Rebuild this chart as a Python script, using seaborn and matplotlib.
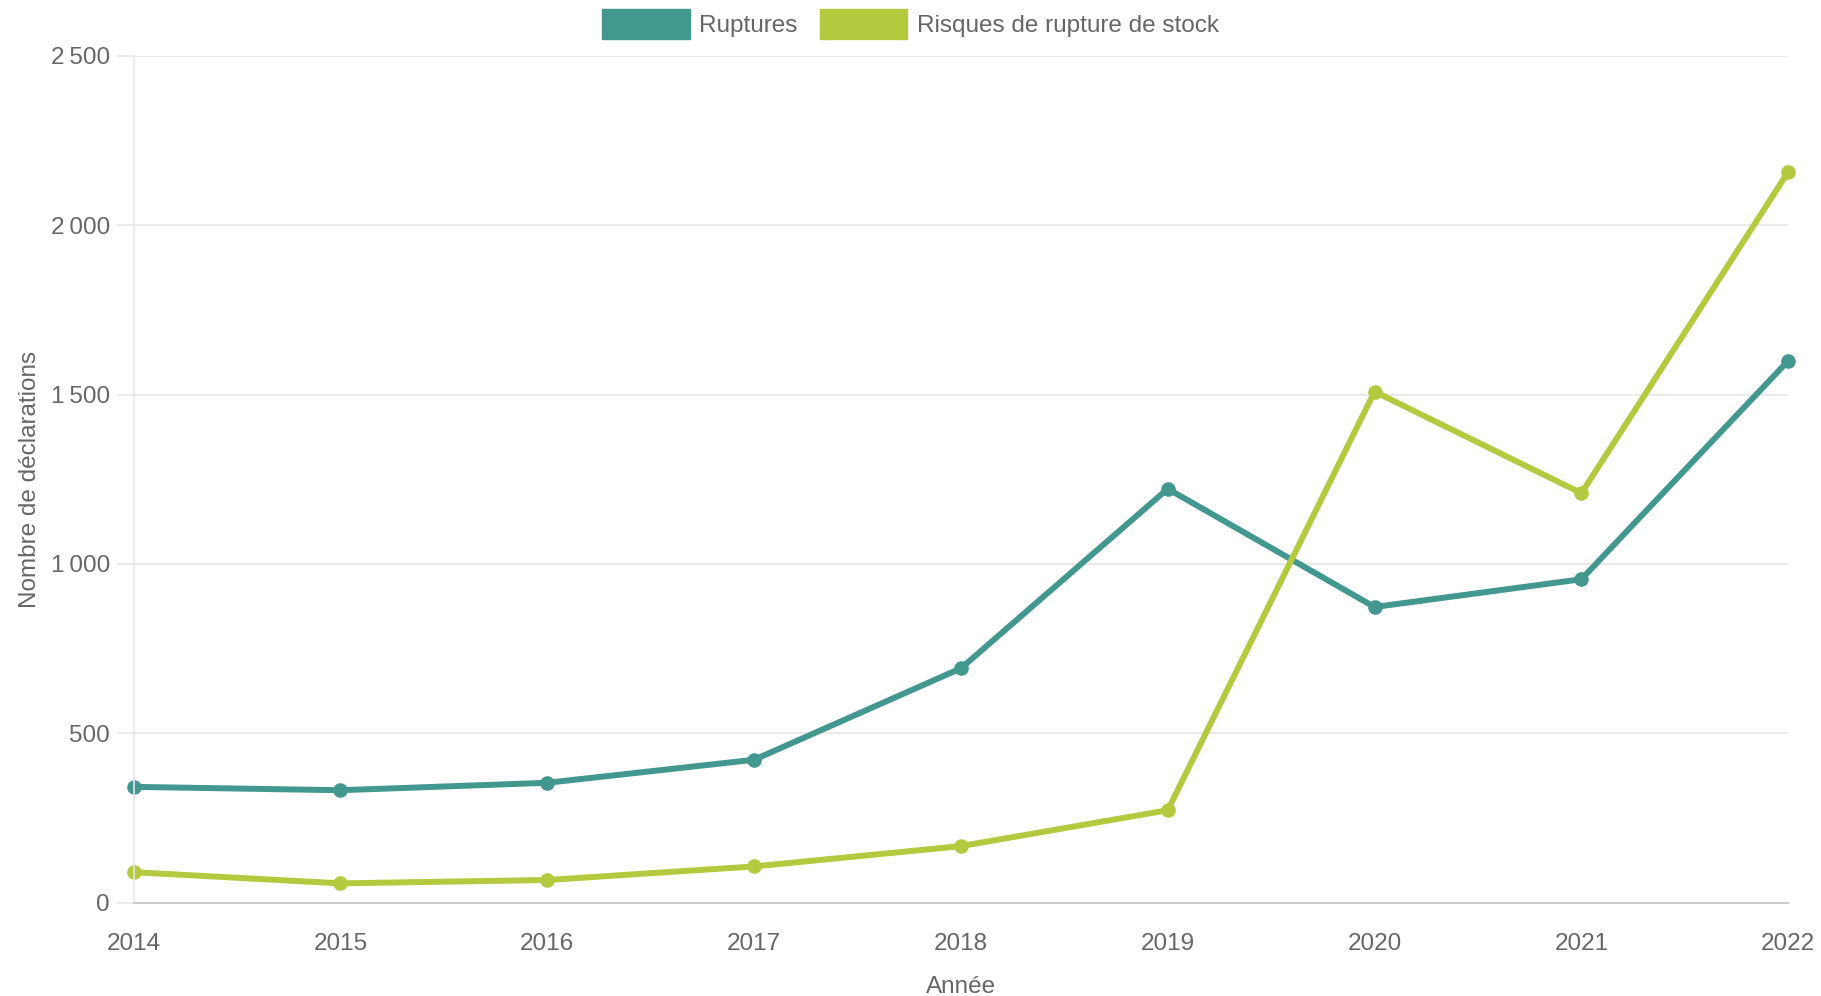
import matplotlib
matplotlib.use("Agg")
import matplotlib.pyplot as plt
from matplotlib.patches import Patch
from matplotlib.ticker import FuncFormatter
import seaborn as sns
import pandas as pd

years = [2014, 2015, 2016, 2017, 2018, 2019, 2020, 2021, 2022]
ruptures = [342, 332, 354, 422, 692, 1222, 873, 955, 1600]
risques = [90, 57, 67, 107, 167, 273, 1509, 1209, 2158]
series_names = ["Ruptures", "Risques de rupture de stock"]
colors = ["#42978e", "#b5c93e"]
y_ticks = [0, 500, 1000, 1500, 2000, 2500]

sns.set_theme(style="white")
plt.rcParams['font.family'] = ['Liberation Sans', 'DejaVu Sans']

df = pd.DataFrame({
    "Année": years * 2,
    "valeur": ruptures + risques,
    "série": [series_names[0]] * len(years) + [series_names[1]] * len(years),
})

FS = 17.5
fig = plt.figure(figsize=(18.21, 9.96), dpi=100)
ax = fig.add_axes([0.0734, 0.0937, 0.9086, 0.8501])

sns.lineplot(data=df, x="Année", y="valeur", hue="série", palette=colors,
             marker="o", markersize=10.5, markeredgewidth=0, linewidth=4.3,
             ax=ax, legend=False, clip_on=False)

ax.set_xlim(years[0], years[-1])
ax.set_ylim(y_ticks[0], y_ticks[-1])
ax.set_xticks(years)
ax.set_xticklabels([str(y) for y in years])
ax.set_yticks(y_ticks)
ax.yaxis.set_major_formatter(FuncFormatter(lambda v, p: f"{int(v):,}".replace(",", "\u2009")))

ax.grid(axis="y", color="#e6e6e6", linewidth=1.2)
ax.grid(axis="x", visible=False)
for s in ["top", "right"]:
    ax.spines[s].set_visible(False)
ax.spines["left"].set_color("#e6e6e6")
ax.spines["left"].set_linewidth(1.2)
ax.spines["bottom"].set_color("#cccccc")
ax.spines["bottom"].set_linewidth(1.5)

ax.tick_params(axis="y", length=12, width=1.2, color="#e6e6e6", pad=5,
               labelsize=FS, labelcolor="#666666", left=True)
ax.tick_params(axis="x", length=0, pad=22, labelsize=FS, labelcolor="#666666")

ax.set_xlabel("Année", fontsize=FS, color="#666666", labelpad=15)
ax.set_ylabel("Nombre de déclarations", fontsize=FS, color="#666666", labelpad=7)

handles = [Patch(facecolor=c, edgecolor=c) for c in colors]
fig.legend(handles, series_names, loc="center", bbox_to_anchor=(0.5, 0.976),
           ncol=2, frameon=False, fontsize=FS, labelcolor="#666666",
           handlelength=3.6, handleheight=1.5, handletextpad=0.4, columnspacing=0.9)

fig.savefig("out.png", dpi=100, facecolor="white")
